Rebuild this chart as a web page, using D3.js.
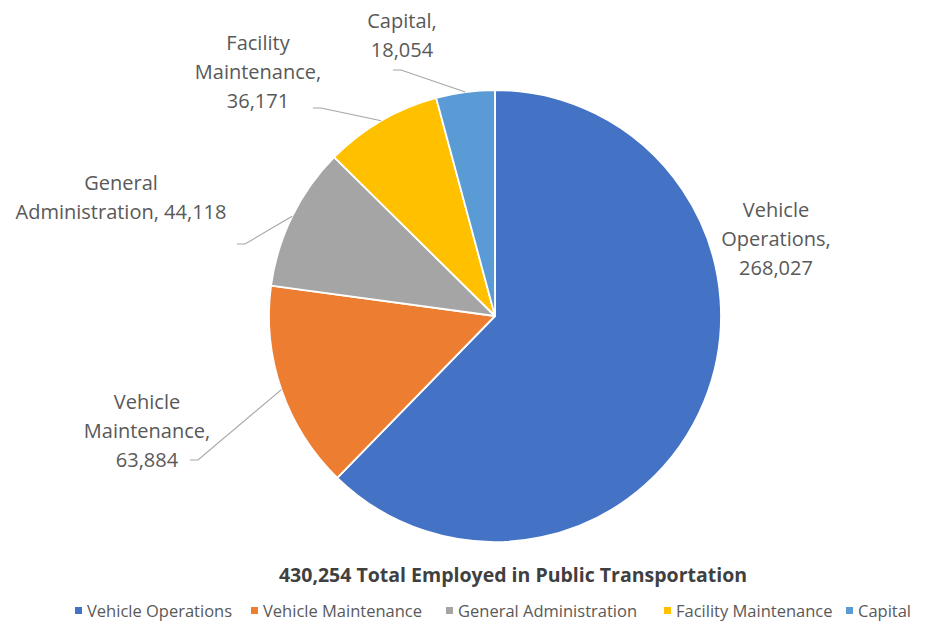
<!DOCTYPE html>
<html>
<head>
<meta charset="utf-8">
<script src="https://cdn.jsdelivr.net/npm/d3@7"></script>
<style>
  html, body { margin: 0; padding: 0; background: #fff; }
  svg { display: block; font-family: "Open Sans", "Noto Sans", sans-serif; }
</style>
</head>
<body>
<svg id="chart" width="934" height="625"></svg>
<script>
// Public transportation employment by function
const categories = ["Vehicle Operations", "Vehicle Maintenance", "General Administration", "Facility Maintenance", "Capital"];
const employees = [268027, 63884, 44118, 36171, 18054];
const colors = ["#4472C4", "#ED7D31", "#A5A5A5", "#FFC000", "#5B9BD5"];
const labelLines = [
  ["Vehicle", "Operations,", "268,027"],
  ["Vehicle", "Maintenance,", "63,884"],
  ["General", "Administration, 44,118"],
  ["Facility", "Maintenance,", "36,171"],
  ["Capital,", "18,054"]
];
const title = "430,254 Total Employed in Public Transportation";

// Label placement: centre x, first baseline y, leader-line end (null = no leader)
const labelLayout = [
  { x: 776, y: 217, leader: null },
  { x: 147, y: 409, leader: [190, 460] },
  { x: 121, y: 190, leader: [237, 244] },
  { x: 258, y: 50,  leader: [313, 108] },
  { x: 402, y: 28,  leader: [393, 70] }
];
// Legend item x positions
const legendX = [75, 251, 446, 664, 846];

const svg = d3.select("#chart");
const cx = 495, cy = 316, r = 226;
const lineH = 29;

const pie = d3.pie().sort(null).value(d => d)(employees);
const arc = d3.arc().innerRadius(0).outerRadius(r);

const g = svg.append("g").attr("transform", `translate(${cx},${cy})`);
g.selectAll("path.slice")
  .data(pie)
  .join("path")
  .attr("class", "slice")
  .attr("d", arc)
  .attr("fill", (d, i) => colors[i])
  .attr("stroke", "#fff")
  .attr("stroke-width", 1.8)
  .attr("stroke-linejoin", "round");

// Leader lines from slice edge to labels
pie.forEach((d, i) => {
  const L = labelLayout[i];
  if (!L.leader) return;
  const mid = (d.startAngle + d.endAngle) / 2;
  const px = cx + r * Math.sin(mid);
  const py = cy - r * Math.cos(mid);
  const [ex, ey] = L.leader;
  const dir = px > ex ? 1 : -1;
  svg.append("polyline")
    .attr("points", `${ex},${ey} ${ex + dir * 8},${ey} ${px},${py}`)
    .attr("fill", "none")
    .attr("stroke", "#A6A6A6")
    .attr("stroke-width", 1.1);
});

// Data labels
labelLines.forEach((lines, i) => {
  const L = labelLayout[i];
  const t = svg.append("text")
    .attr("text-anchor", "middle")
    .attr("font-size", 20)
    .attr("fill", "#595959");
  lines.forEach((s, k) => {
    t.append("tspan").attr("x", L.x).attr("y", L.y + k * lineH).text(s);
  });
});

// Title below the pie
svg.append("text")
  .attr("x", 513)
  .attr("y", 582)
  .attr("text-anchor", "middle")
  .attr("font-size", 19.5)
  .attr("font-weight", "bold")
  .attr("fill", "#404040")
  .text(title);

// Legend
const legend = svg.append("g").attr("transform", "translate(0,617)");
categories.forEach((c, i) => {
  const item = legend.append("g").attr("transform", `translate(${legendX[i]},0)`);
  item.append("rect").attr("x", 0).attr("y", -10).attr("width", 7).attr("height", 7).attr("fill", colors[i]);
  item.append("text").attr("x", 12).attr("y", 0)
    .attr("font-size", 16.5).attr("fill", "#595959").text(c);
});
</script>
</body>
</html>
